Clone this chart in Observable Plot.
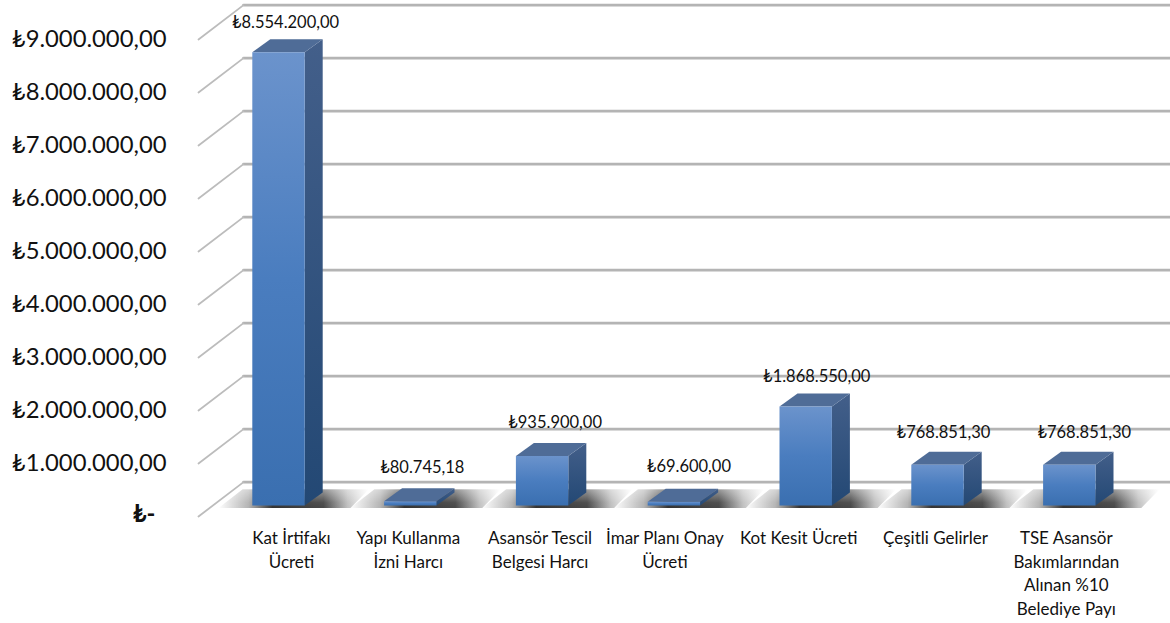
<!DOCTYPE html>
<html><head><meta charset="utf-8">
<script src="https://cdn.jsdelivr.net/npm/d3@7"></script>
<script src="https://cdn.jsdelivr.net/npm/@observablehq/plot@0.6"></script>
<style>html,body{margin:0;padding:0;background:#fff}svg{display:block}</style>
</head><body><div id="chart"></div>
<script>
const categories = [
  "Kat İrtifakı\nÜcreti","Yapı Kullanma\nİzni Harcı","Asansör Tescil\nBelgesi Harcı",
  "İmar Planı Onay\nÜcreti","Kot Kesit Ücreti","Çeşitli Gelirler",
  "TSE Asansör\nBakımlarından\nAlınan %10\nBelediye Payı"];
const values = [8554200,80745.18,935900,69600,1868550,768851.30,768851.30];
const valueLabels = ["₺8.554.200,00","₺80.745,18","₺935.900,00","₺69.600,00","₺1.868.550,00","₺768.851,30","₺768.851,30"];
const gridValues = [0,1e6,2e6,3e6,4e6,5e6,6e6,7e6,8e6,9e6];
const tickValues = gridValues.slice(1);
const tickLabel = v => "₺" + (v/1e6) + ".000.000,00";
const zeroLabel = "₺-";

// layout (pixels converted to scale units)
const W = 1170, H = 623, step = 131.8, x0 = 278, pxPerUnit = 53/1e6, y0 = 505;
const px = p => p/step;             // horizontal px → category units
const pv = p => p/pxPerUnit;        // vertical px → value units
const halfBar = px(26.2), depthX = px(18), depthY = pv(13);
const wallFrontX = px(198-x0), wallBackX = px(243-x0), wallFrontY = pv(y0-516), wallBackY = pv(y0-481.6);
const catNudge = [13,-2,-2,-9,-7,-2,-3].map(px);
const valNudge = [7,12,13,15,11,6,15].map(px);
const valLift = [-4,1,0,2,-3,-1,-1].map(pv);
const rows = categories.map((c,i)=>({c,i,v:values[i],label:valueLabels[i]}));

const poly = (id,pts)=>pts.map(([x,y])=>({id,x,y}));
const front = rows.flatMap(r=>poly(r.i,[[r.i-halfBar,0],[r.i+halfBar,0],[r.i+halfBar,r.v],[r.i-halfBar,r.v]]));
const side = rows.flatMap(r=>poly(r.i,[[r.i+halfBar,0],[r.i+halfBar+depthX,depthY],[r.i+halfBar+depthX,r.v+depthY],[r.i+halfBar,r.v]]));
const top_ = rows.flatMap(r=>poly(r.i,[[r.i-halfBar,r.v],[r.i+halfBar,r.v],[r.i+halfBar+depthX,r.v+depthY],[r.i-halfBar+depthX,r.v+depthY]]));
const shadow = rows.flatMap(r=>poly(r.i,[[r.i+px(-60),pv(-2.5)],[r.i+px(72),pv(-2.5)],[r.i+px(90),pv(16)],[r.i+px(-36),pv(16)]]));
const hGrid = gridValues.flatMap(v=>poly(v,[[wallBackX,v+wallBackY],[(W-x0)/step,v+wallBackY]]));
const dGrid = gridValues.flatMap(v=>poly(v,[[wallFrontX,v+wallFrontY],[wallBackX,v+wallBackY]]));

function defs(){
  const d = d3.create("svg:defs");
  const grad=(id,stops,hor)=>{
    const g=d.append("linearGradient").attr("id",id).attr("x1",0).attr("y1",0).attr("x2",hor?1:0).attr("y2",hor?0:1);
    stops.forEach(([o,c,a])=>g.append("stop").attr("offset",o).attr("stop-color",c).attr("stop-opacity",a??1));
  };
  grad("gFront",[[0,"#6b93cc"],[0.5,"#4a7dbf"],[1,"#3a6fb0"]]);
  grad("gSide",[[0,"#435f8a"],[1,"#234874"]]);
  grad("gTop",[[0,"#4f6c97"],[1,"#4f6c97"]]);
  grad("gShadow",[[0,"#000",0],[0.2,"#000",0.3],[0.36,"#000",0.8],[0.7,"#000",0.72],[0.86,"#000",0.25],[1,"#000",0]],true);
  grad("gFade",[[0,"#fff",0.45],[0.7,"#fff",0.05],[1,"#fff",0]]);
  const f=d.append("filter").attr("id","soft").attr("x","-10%").attr("y","-30%").attr("width","120%").attr("height","160%");
  f.append("feGaussianBlur").attr("stdDeviation",1);
  return d.node();
}

const fs = 23.8;
const chart = Plot.plot({
  width:W, height:H, margin:0,
  style:{background:"#fff",fontFamily:"Lato, 'DejaVu Sans', sans-serif",overflow:"visible"},
  x:{domain:[-x0/step,(W-x0)/step],range:[0,W],axis:null},
  y:{domain:[-(H-y0)/pxPerUnit,y0/pxPerUnit],range:[H,0],axis:null},
  marks:[
    defs,
    Plot.line(hGrid,{x:"x",y:"y",z:"id",stroke:"#b4b4b4",strokeWidth:2.6}),
    Plot.line(dGrid,{x:"x",y:"y",z:"id",stroke:"#bcbcbc",strokeWidth:1.8}),
    Plot.line(shadow,{x:"x",y:"y",z:"id",fill:"url(#gShadow)",stroke:"none",style:"filter:url(#soft)"}),
    Plot.line(shadow,{x:"x",y:"y",z:"id",fill:"url(#gFade)",stroke:"none"}),
    Plot.line(side,{x:"x",y:"y",z:"id",fill:"url(#gSide)",stroke:"none"}),
    Plot.line(top_,{x:"x",y:"y",z:"id",fill:"url(#gTop)",stroke:"none"}),
    Plot.line(front,{x:"x",y:"y",z:"id",fill:"url(#gFront)",stroke:"none"}),
    Plot.axisY({ticks:tickValues,tickSize:0,tickPadding:0,tickFormat:tickLabel,label:null,anchor:"left",dx:166,dy:11,fontSize:fs,fill:"#111",stroke:"#111",strokeWidth:0.15,textAnchor:"end"}),
    Plot.text([zeroLabel],{x:()=>px(155-x0),y:()=>0,text:d=>d,dy:9,textAnchor:"end",fontSize:fs,fontWeight:700,fill:"#111"}),
    Plot.text(rows,{x:r=>r.i+valNudge[r.i],y:r=>r.v+valLift[r.i],text:"label",dy:-33,fontSize:16.5,fill:"#111"}),
    Plot.text(rows,{x:r=>r.i+catNudge[r.i],y:()=>pv(y0-538),text:"c",lineAnchor:"top",dy:-11,lineHeight:1.38,fontSize:17,fill:"#111"})
  ]
});
document.getElementById("chart").append(chart);
</script></body></html>
